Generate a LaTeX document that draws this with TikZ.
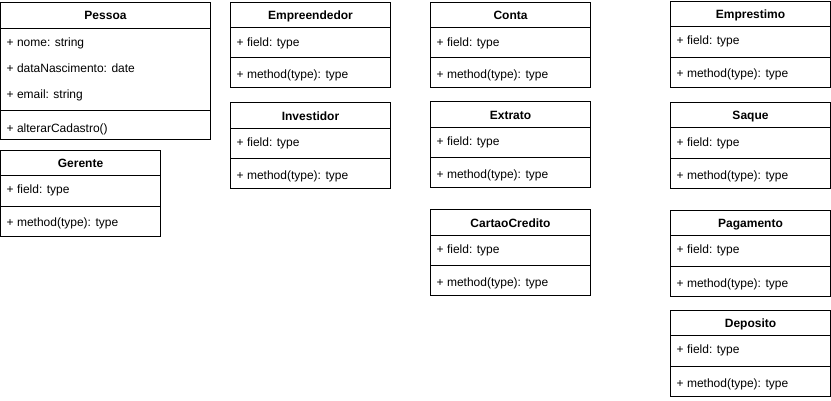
\documentclass[tikz,border=0pt]{standalone}
\usepackage{fontspec}
\setmainfont{Liberation Sans}
\begin{document}
\begin{tikzpicture}[x=1pt,y=-1pt,
  box/.style={draw=black,line width=1pt,anchor=north west,inner sep=0pt,outer sep=0pt,minimum width=160pt},
  sepline/.style={draw=black,line width=1pt},
  ctitle/.style={font=\fontsize{12}{14}\selectfont\bfseries,inner sep=0pt,text height=8.6pt,text depth=2.4pt,yshift=-1pt},
  member/.style={font=\fontsize{12}{14}\selectfont,anchor=west,inner sep=0pt,text height=8.6pt,text depth=2.4pt,yshift=-1.5pt}]
\useasboundingbox (0,0) rectangle (831,400);
% generic class box: name, x, top, header, sep, bottom, title, fieldY, methodY
\newcommand\umlbox[9]{%
  \node[box,minimum height={(#6-#3)*1pt}] (#1) at (#2,#3) {};
  \coordinate (#1h) at (#2,#4);
  \coordinate (#1s) at (#2,#5);
  \draw[sepline] (#1.west |- #1h) -- (#1.east |- #1h);
  \draw[sepline] (#1.west |- #1s) -- (#1.east |- #1s);
  \node[ctitle] (#1t) at ({#2+80},{(#3+#4)/2+0.5}) {#7};
  \node[member] (#1f) at ({#2+6},#8) {+ field: type};
  \node[member] (#1m) at ({#2+6},#9) {+ method(type): type};
}
% Pessoa
\node[box,minimum width=210pt,minimum height=137pt] (pessoa) at (0.5,2.5) {};
\coordinate (pessoah) at (0,28);
\coordinate (pessoas) at (0,110);
\draw[sepline] (pessoa.west |- pessoah) -- (pessoa.east |- pessoah);
\draw[sepline] (pessoa.west |- pessoas) -- (pessoa.east |- pessoas);
\node[ctitle] (pessoat) at (105.5,15.5) {Pessoa};
\node[member] (pessoa1) at (6.5,42) {+ nome: string};
\node[member] (pessoa2) at (6.5,68) {+ dataNascimento: date};
\node[member] (pessoa3) at (6.5,94) {+ email: string};
\node[member] (pessoam) at (6.5,128) {+ alterarCadastro()};
% others
\umlbox{gerente}{0.5}{150.5}{175.5}{206}{236.5}{Gerente}{189}{222}
\umlbox{empreendedor}{230.5}{2.5}{27.5}{57.5}{87.5}{Empreendedor}{41.5}{74}
\umlbox{investidor}{230.5}{102.5}{128.5}{158.5}{188.5}{Investidor}{142}{175}
\umlbox{conta}{430.5}{2.5}{27.5}{57.5}{87.5}{Conta}{41.5}{74}
\umlbox{extrato}{430.5}{101.5}{127.5}{157.5}{187.5}{Extrato}{141}{174}
\umlbox{cartao}{430.5}{209.5}{235.5}{265.5}{295.5}{CartaoCredito}{249}{282}
\umlbox{emprestimo}{670.5}{1}{26}{57}{87}{Emprestimo}{40}{73}
\umlbox{saque}{670.5}{102}{127.5}{158.5}{188.5}{Saque}{141.7}{175}
\umlbox{pagamento}{670.5}{210}{235.5}{266.5}{296.5}{Pagamento}{249}{283}
\umlbox{deposito}{670.5}{310}{335.5}{366.5}{396.5}{Deposito}{349}{383}
\end{tikzpicture}
\end{document}
